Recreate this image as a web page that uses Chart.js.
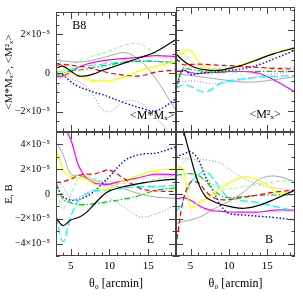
<!DOCTYPE html>
<html>
<head>
<meta charset="utf-8">
<script src="https://cdn.jsdelivr.net/npm/chart.js@4"></script>
<style>
  html, body { margin: 0; background: #fff; }
  #wrap { position: relative; width: 303px; height: 303px; }
  #wrap canvas { position: absolute; left: 0; top: 0; }
</style>
</head>
<body>
<div id="wrap">
  <canvas id="tl" width="303" height="303"></canvas>
  <canvas id="tr" width="303" height="303"></canvas>
  <canvas id="bl" width="303" height="303"></canvas>
  <canvas id="br" width="303" height="303"></canvas>
</div>
<script>
// theta_0 sample positions [arcmin]; values below are in units of 1e-5
const theta = [3.1, 4, 5, 6, 7, 8, 9, 10, 12, 14, 16, 18.6];

// top left: <M*Mx>
const tlBlack  = [0.25, 0.35, 0.1, -0.15, -0.15, -0.05, 0.12, 0.25, 0.52, 0.8, 1.1, 1.73];
const tlRed    = [0.4, 0.45, 0.4, 0.35, 0.3, 0.2, 0.1, 0.0, -0.12, -0.15, 0.05, 0.15];
const tlYellow = [-0.05, 0.05, 0.0, -0.15, -0.3, -0.4, -0.42, -0.4, -0.2, 0.15, 0.35, 0.6];
const tlGreen  = [-0.15, 0.0, 0.1, 0.15, 0.2, 0.28, 0.35, 0.42, 0.55, 0.6, 0.6, 0.5];
const tlCyan   = [0.0, 0.1, 0.2, 0.3, 0.35, 0.4, 0.45, 0.5, 0.58, 0.62, 0.6, 0.57];
const tlBlue   = [0.1, -0.1, -0.45, -0.7, -0.85, -1.0, -1.1, -1.25, -1.55, -1.8, -1.95, -1.35];
const tlMagenta = [-0.2, -0.15, 0.05, 0.3, 0.45, 0.55, 0.62, 0.68, 0.75, 0.82, 0.9, 0.85];
const tlGray   = [0.66, 0.62, 0.58, 0.56, 0.6, 0.68, 0.78, 0.88, 1.05, 0.65, -0.3, -1.95];
const tlLtGreen = [-1.3, 0.1, 0.45, 0.6, 0.75, 0.9, 1.0, 1.15, 1.45, 1.5, 1.0, 0.6];
const tlLtBlue = [1.15, 0.3, -0.25, -0.45, -0.7, -1.2, -1.85, -2.0, -1.45, -1.55, -2.3, -3.4];

// top right: <Mx^2>
const trBlack  = [0.82, 0.5, 0.25, 0.1, 0.03, 0.0, 0.02, 0.1, 0.3, 0.58, 0.85, 1.12];
const trRed    = [0.6, 0.3, 0.3, 0.32, 0.3, 0.28, 0.26, 0.24, 0.2, 0.15, 0.1, 0.08];
const trYellow = [0.5, 0.95, 1.0, 0.45, 0.12, 0.05, 0.06, 0.12, 0.34, 0.6, 0.88, 1.15];
const trGreen  = [-0.8, 0.1, 0.05, 0.0, -0.05, -0.08, -0.08, -0.06, -0.05, -0.04, -0.04, -0.04];
const trCyan   = [-0.85, -0.72, -0.78, -0.98, -1.07, -0.85, -0.6, -0.5, -0.4, -0.32, -0.28, -0.25];
const trBlue   = [-1.0, 0.05, -0.2, -0.15, -0.1, -0.08, -0.05, 0.0, 0.1, 0.3, 0.6, 1.0];
const trMagenta = [-0.05, 0.0, -0.1, -0.15, -0.12, -0.1, -0.08, -0.05, -0.05, -0.15, -0.5, -1.07];
const trGray   = [-0.2, -0.2, -0.25, -0.3, -0.35, -0.4, -0.45, -0.5, -0.58, -0.55, -0.45, -0.3];
const trLtGreen = [0.7, 0.85, 0.5, 0.2, 0.12, 0.1, 0.12, 0.12, 0.15, 0.15, 0.15, 0.16];
const trLtBlue = [-0.58, -0.55, -0.52, -0.55, -0.62, -0.66, -0.62, -0.55, -0.45, -0.3, -0.15, -0.05];

// bottom left: E
const blBlack  = [-1.9, -2.55, -2.1, -1.9, -1.5, -0.85, -0.2, 0.25, 0.62, 0.85, 1.05, 1.2];
const blRed    = [0.9, 1.0, 1.2, 1.5, 1.6, 1.6, 1.8, 1.94, 1.2, 0.45, 0.25, 0.2];
const blYellow = [3.7, 2.0, 1.4, 1.3, 1.2, 0.8, 0.35, 0.45, 1.15, 1.55, 1.9, 2.05];
const blGreen  = [0.9, -0.4, -0.7, -0.85, -0.85, -0.78, -0.7, -0.6, -0.4, -0.1, 0.3, 0.5];
const blCyan   = [-1.8, -3.85, -1.8, -0.5, 0.0, 0.25, 0.3, 0.35, 0.5, 0.6, 0.62, 0.7];
const blBlue   = [0.8, -0.2, -0.5, -0.45, -0.2, 0.2, 0.8, 1.4, 2.7, 3.2, 3.3, 3.8];
const blMagenta = [6.5, 5.5, 4.4, 2.3, 1.3, 0.9, 0.8, 0.8, 1.1, 1.35, 1.6, 1.55];
const blGray   = [4.2, 3.2, 1.6, 1.5, 1.3, 1.1, 0.95, 0.8, 0.4, 0.0, -0.25, -0.35];
const blLtGreen = [0.5, -1.2, 0.0, 1.3, 1.4, 1.25, 1.1, 1.0, 0.85, 0.9, 1.2, 1.5];
const blLtBlue = [1.1, 0.6, -0.4, -0.3, 0.1, 0.3, 0.1, -0.3, -1.1, -1.85, -1.6, -0.9];

// bottom right: B
const brBlack  = [7.5, 5.3, 3.0, 0.9, -0.25, -0.6, -0.85, -1.0, -1.15, -0.9, -0.4, 0.32];
const brRed    = [-4.3, -0.6, 0.95, 0.9, 0.2, -0.3, -0.45, -0.45, -0.25, -0.05, 0.15, 0.32];
const brYellow = [2.3, 2.0, -1.1, -0.7, -0.4, 0.05, 0.5, 0.9, 1.4, 1.1, 0.3, -0.08];
const brGreen  = [1.5, 1.6, 1.65, 1.5, 1.0, 0.3, -0.15, -0.3, -0.2, -0.1, -0.08, -0.08];
const brCyan   = [-1.45, -0.6, 0.9, 1.6, 1.8, 1.2, 0.3, -0.3, -0.55, -0.7, -1.0, -1.35];
const brBlue   = [3.0, 3.2, 3.4, 2.8, 1.3, 0.2, -1.0, -1.55, -1.7, -1.8, -1.9, -2.1];
const brMagenta = [-0.4, -0.3, -0.5, -0.9, -1.2, -1.35, -1.4, -1.45, -1.46, -1.45, -1.3, -1.3];
const brGray   = [-2.4, -2.2, -2.1, -1.9, -1.6, -1.2, -0.9, -0.6, 0.2, 1.2, 1.45, 1.0];
const brLtGreen = [1.6, 2.5, 3.1, 2.5, 1.4, 0.7, 0.4, 0.4, 0.6, 0.8, 1.0, 1.1];
const brLtBlue = [2.9, 2.85, 2.8, 2.75, 2.75, 2.65, 2.45, 2.05, 1.2, 0.8, 0.5, 0.3];

// line styles, in drawing priority (first is on top)
const styles = [
  { borderColor: '#000000', borderWidth: 1.2 },
  { borderColor: '#ff0000', borderWidth: 1.2, borderDash: [5, 3] },
  { borderColor: '#ffff00', borderWidth: 1.3 },
  { borderColor: '#00d000', borderWidth: 1.2, borderDash: [6, 2, 1.5, 2] },
  { borderColor: '#00ffff', borderWidth: 1.2, borderDash: [8, 3] },
  { borderColor: '#0000ff', borderWidth: 1.4, borderDash: [1.5, 2] },
  { borderColor: '#ff00ff', borderWidth: 1.2 },
  { borderColor: '#909090', borderWidth: 0.8 },
  { borderColor: '#80ff80', borderWidth: 0.9, borderDash: [4, 2] },
  { borderColor: '#8080ff', borderWidth: 1.0, borderDash: [1, 2] }
];

const serif = 'Liberation Serif, DejaVu Serif, serif';
const X_MIN = 3.1, X_MAX = 18.6;

function yLabel(v) {
  if (v % 2 !== 0) return '';
  if (v === 0) return '0';
  return (v < 0 ? '\u2212' : '') + Math.abs(v) + '\u00d710\u207b\u2075';
}
function xLabel(v) {
  return v % 5 === 0 ? String(v) : '';
}

// frame with inward ticks on all four sides, plus the panel tags
const frameTicks = {
  id: 'frameTicks',
  afterDatasetsDraw(chart, args, o) {
    const { ctx, chartArea: a } = chart;
    const x = chart.scales.x, y = chart.scales.y;
    ctx.save();
    ctx.strokeStyle = '#444';
    ctx.lineWidth = 1;
    ctx.beginPath();
    for (let v = Math.ceil(x.min); v <= x.max; v++) {
      const px = Math.round(x.getPixelForValue(v)) + 0.5;
      const len = v % 5 === 0 ? 7 : 3.5;
      ctx.moveTo(px, a.bottom); ctx.lineTo(px, a.bottom - len);
      ctx.moveTo(px, a.top); ctx.lineTo(px, a.top + len);
    }
    for (let v = Math.ceil(y.min / o.minor) * o.minor; v <= y.max; v += o.minor) {
      const py = Math.round(y.getPixelForValue(v)) + 0.5;
      const len = Math.abs(v % 2) < 1e-9 ? 7 : 3.5;
      ctx.moveTo(a.left, py); ctx.lineTo(a.left + len, py);
      ctx.moveTo(a.right, py); ctx.lineTo(a.right - len, py);
    }
    ctx.stroke();
    ctx.strokeRect(a.left + 0.5, a.top + 0.5, a.width - 1, a.height - 1);
    ctx.fillStyle = '#000';
    ctx.font = '12px ' + serif;
    ctx.textBaseline = 'middle';
    (o.tags || []).forEach(t => {
      ctx.textAlign = t.align || 'left';
      ctx.fillText(t.text, x.getPixelForValue(t.x), y.getPixelForValue(t.y));
    });
    ctx.restore();
  }
};

function panel(id, rect, yMin, yMax, minor, sets, opt) {
  const showY = !!opt.yTitle, showX = !!opt.xTitle;
  return new Chart(document.getElementById(id), {
    type: 'line',
    data: {
      datasets: sets.map((vals, i) => Object.assign({
        data: vals.map((v, k) => ({ x: theta[k], y: v })),
        pointRadius: 0,
        tension: 0.35,
        fill: false
      }, styles[i]))
    },
    options: {
      responsive: false,
      animation: false,
      events: [],
      layout: {
        padding: {
          left: showY ? 0 : rect.left,
          top: rect.top,
          right: 303 - rect.right,
          bottom: showX ? 0 : 303 - rect.bottom
        }
      },
      scales: {
        x: {
          type: 'linear', min: X_MIN, max: X_MAX, display: showX,
          grid: { display: false, drawTicks: false },
          border: { display: false },
          ticks: { stepSize: 1, includeBounds: false, autoSkip: false, padding: 4, color: '#000',
                   font: { family: serif, size: 11 }, maxRotation: 0, callback: xLabel },
          title: { display: showX, text: opt.xTitle, color: '#000',
                   font: { family: serif, size: 12 }, padding: { top: 0, bottom: 12 } },
          afterFit: s => { if (showX) s.height = 303 - rect.bottom; }
        },
        y: {
          type: 'linear', min: yMin, max: yMax, display: showY,
          grid: { display: false, drawTicks: false },
          border: { display: false },
          ticks: { stepSize: 1, includeBounds: false, autoSkip: false, padding: 6, color: '#000',
                   font: { family: serif, size: 10 }, callback: yLabel },
          title: { display: showY, text: opt.yTitle, color: '#000',
                   font: { family: serif, size: 11 }, padding: { top: 3, bottom: 0 } },
          afterFit: s => { if (showY) s.width = rect.left; }
        }
      },
      plugins: {
        legend: { display: false },
        tooltip: { enabled: false },
        frameTicks: { minor: minor, tags: opt.tags }
      }
    },
    plugins: [frameTicks]
  });
}

const topTitle = '<M*M\u2093>, <M\u00b2\u2093>';
const axisTitle = '\u03b8\u2080 [arcmin]';

panel('tl', { left: 56, top: 7, right: 176, bottom: 132 }, -3.05, 3.15, 0.5,
  [tlBlack, tlRed, tlYellow, tlGreen, tlCyan, tlBlue, tlMagenta, tlGray, tlLtGreen, tlLtBlue],
  { yTitle: topTitle,
    tags: [{ text: 'B8', x: 5.2, y: 2.45 }, { text: '<M*M\u2093>', x: 18.4, y: -2.2, align: 'right' }] });

panel('tr', { left: 176, top: 7, right: 295, bottom: 132 }, -3.05, 3.15, 0.5,
  [trBlack, trRed, trYellow, trGreen, trCyan, trBlue, trMagenta, trGray, trLtGreen, trLtBlue],
  { tags: [{ text: '<M\u00b2\u2093>', x: 14.7, y: -2.2, align: 'center' }] });

panel('bl', { left: 56, top: 132, right: 176, bottom: 256 }, -5, 5, 1,
  [blBlack, blRed, blYellow, blGreen, blCyan, blBlue, blMagenta, blGray, blLtGreen, blLtBlue],
  { yTitle: 'E, B', xTitle: axisTitle,
    tags: [{ text: 'E', x: 15.3, y: -3.7, align: 'center' }] });

panel('br', { left: 176, top: 132, right: 295, bottom: 256 }, -5, 5, 1,
  [brBlack, brRed, brYellow, brGreen, brCyan, brBlue, brMagenta, brGray, brLtGreen, brLtBlue],
  { xTitle: axisTitle,
    tags: [{ text: 'B', x: 15.2, y: -3.7, align: 'center' }] });
</script>
</body>
</html>
